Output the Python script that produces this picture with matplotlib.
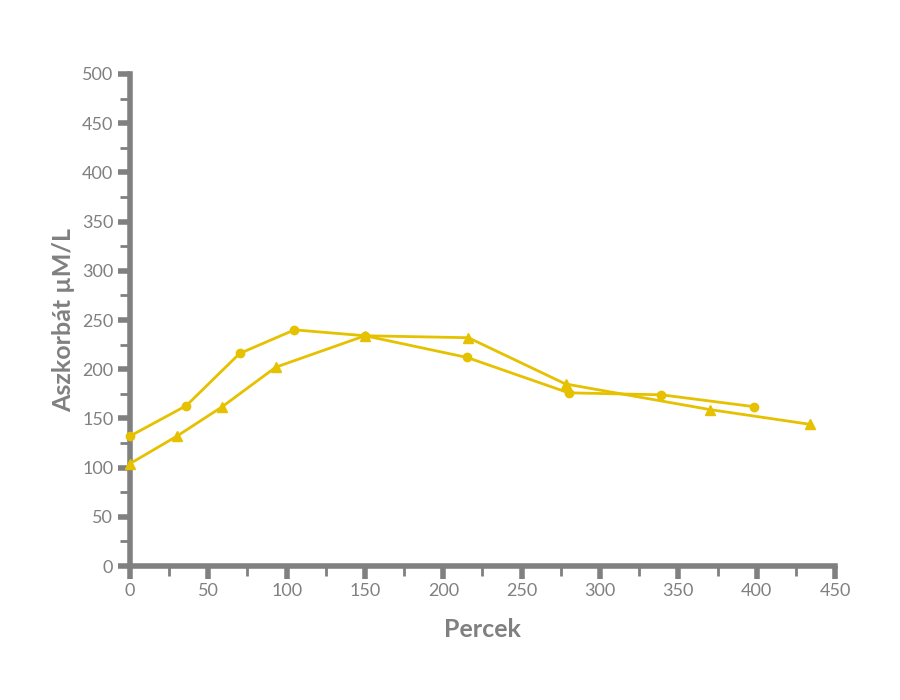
import numpy as np
import matplotlib.pyplot as plt
from matplotlib.ticker import MultipleLocator

plt.rcParams['font.family'] = ['Lato', 'DejaVu Sans']

# ==========================
# Dati
# ==========================
perc_kor = [0, 36, 70, 105, 150, 215, 280, 339, 398]
asz_kor = [132, 163, 216, 240, 234, 212, 176, 174, 162]

perc_har = [0, 30, 59, 93, 150, 216, 278, 370, 434]
asz_har = [104, 132, 162, 202, 234, 232, 185, 159, 144]

SARGA = '#E5C100'
SZURKE = '#808080'

fig = plt.figure(figsize=(9, 7), dpi=100)
ax = fig.add_axes([0.1444, 0.1914, 0.7834, 0.7029])

ax.plot(perc_kor, asz_kor, '-o', color=SARGA, lw=2, ms=6, clip_on=False, zorder=3)
ax.plot(perc_har, asz_har, '-^', color=SARGA, lw=2, ms=7, clip_on=False, zorder=3)

ax.set_xlim(0, 450)
ax.set_ylim(0, 500)

for s in ['top', 'right']:
    ax.spines[s].set_visible(False)
for s in ['left', 'bottom']:
    ax.spines[s].set_color(SZURKE)
    ax.spines[s].set_linewidth(4)
    ax.spines[s].set_capstyle('projecting')

ax.xaxis.set_major_locator(MultipleLocator(50))
ax.xaxis.set_minor_locator(MultipleLocator(25))
ax.yaxis.set_major_locator(MultipleLocator(50))
ax.yaxis.set_minor_locator(MultipleLocator(25))

ax.tick_params(which='major', direction='out', length=9, width=4, color=SZURKE,
               labelcolor=SZURKE, labelsize=13, pad=3)
ax.tick_params(which='minor', direction='out', length=7, width=2, color=SZURKE)

ax.set_xlabel('Percek', color=SZURKE, fontsize=18, fontweight='bold', labelpad=14)
ax.set_ylabel('Aszkorbát µM/L', color=SZURKE, fontsize=18, fontweight='bold', labelpad=5)

fig.savefig('out.png', dpi=100)
